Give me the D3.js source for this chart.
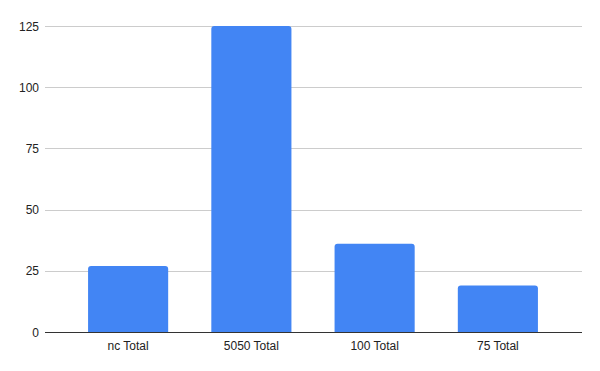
<!DOCTYPE html>
<html>
<head>
<meta charset="utf-8">
<script src="https://cdn.jsdelivr.net/npm/d3@7"></script>
<style>
  body { margin: 0; background: #fff; }
  text { font-family: "Liberation Sans", Arial, sans-serif; }
</style>
</head>
<body>
<svg id="chart" width="600" height="371"></svg>
<script>
var categories = ["nc Total", "5050 Total", "100 Total", "75 Total"];
var values = [27, 125, 36, 19];
var yTicks = [0, 25, 50, 75, 100, 125];

var svg = d3.select("#chart");

var x = d3.scaleBand()
  .domain(categories)
  .range([66.5, 559.5])
  .paddingInner(0.35)
  .paddingOuter(0.175);

var y = d3.scaleLinear()
  .domain([0, 125])
  .range([332, 26]);

// gridlines
svg.append("g")
  .selectAll("line")
  .data(yTicks.slice(1))
  .enter()
  .append("line")
  .attr("x1", 45)
  .attr("x2", 582)
  .attr("y1", function(d){ return Math.round(y(d)) + 0.5; })
  .attr("y2", function(d){ return Math.round(y(d)) + 0.5; })
  .attr("stroke", "#cccccc")
  .attr("stroke-width", 1);

// y labels
svg.append("g")
  .selectAll("text")
  .data(yTicks)
  .enter()
  .append("text")
  .attr("x", 39)
  .attr("y", function(d){ return y(d) + 4.5; })
  .attr("text-anchor", "end")
  .attr("font-size", 12)
  .attr("fill", "#222")
  .text(function(d){ return d; });

// bars with rounded top corners
var r = 3;
svg.append("g")
  .selectAll("path")
  .data(values)
  .enter()
  .append("path")
  .attr("d", function(d, i){
    var x0 = x(categories[i]), w = x.bandwidth();
    var top = y(d), bot = y(0);
    return "M" + x0 + "," + bot +
      "V" + (top + r) +
      "Q" + x0 + "," + top + " " + (x0 + r) + "," + top +
      "H" + (x0 + w - r) +
      "Q" + (x0 + w) + "," + top + " " + (x0 + w) + "," + (top + r) +
      "V" + bot + "Z";
  })
  .attr("fill", "#4285f4");

// baseline
svg.append("line")
  .attr("x1", 45)
  .attr("x2", 582)
  .attr("y1", 332.5)
  .attr("y2", 332.5)
  .attr("stroke", "#333")
  .attr("stroke-width", 1);

// x labels
svg.append("g")
  .selectAll("text")
  .data(categories)
  .enter()
  .append("text")
  .attr("x", function(d){ return x(d) + x.bandwidth() / 2; })
  .attr("y", 350)
  .attr("text-anchor", "middle")
  .attr("font-size", 12)
  .attr("fill", "#222")
  .text(function(d){ return d; });
</script>
</body>
</html>
